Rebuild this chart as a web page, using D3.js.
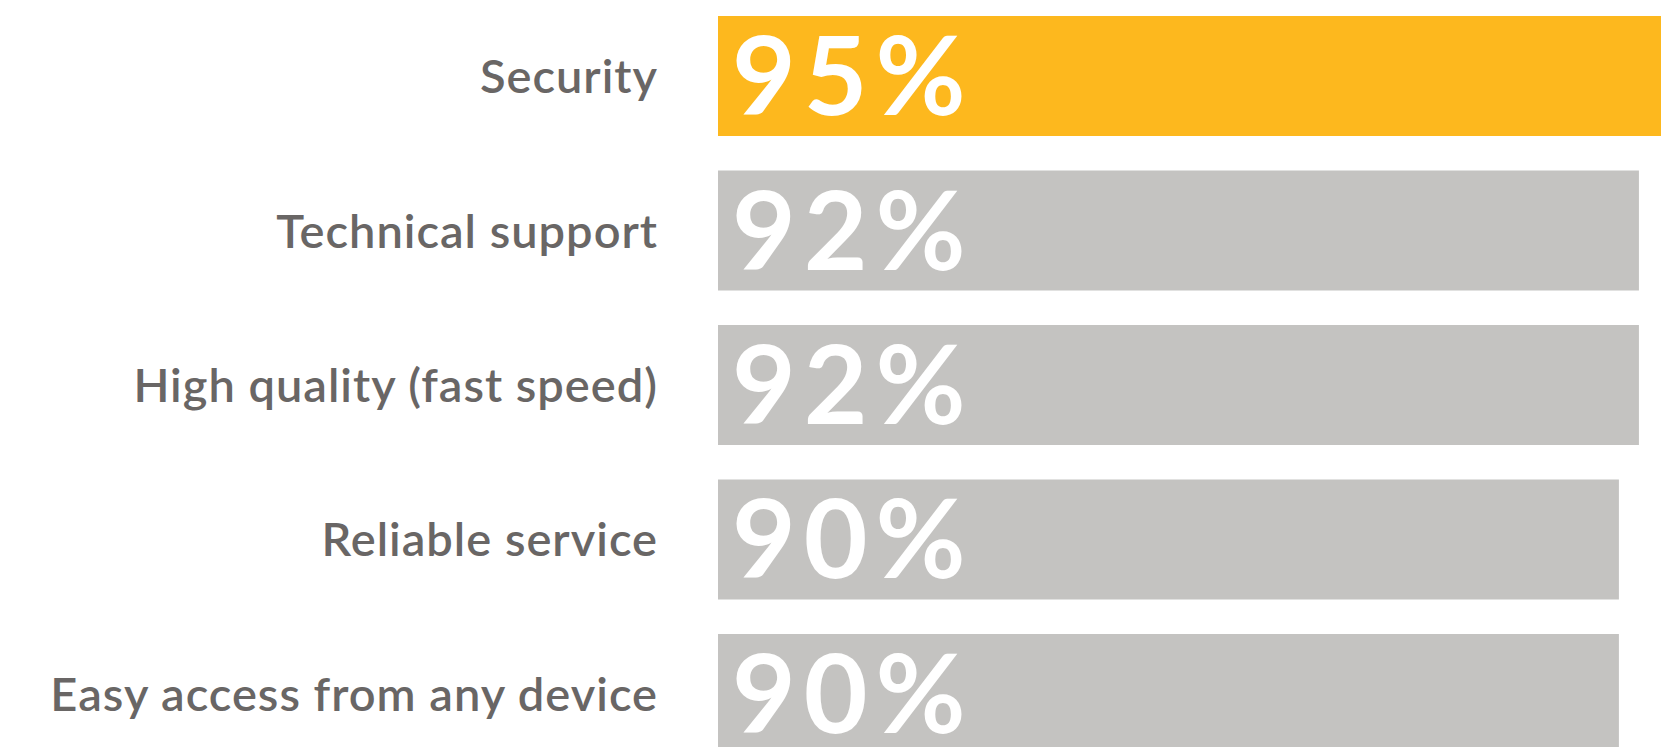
<!DOCTYPE html>
<html>
<head>
<meta charset="utf-8">
<script src="https://cdn.jsdelivr.net/npm/d3@7"></script>
<style>
  html, body { margin: 0; padding: 0; background: #fff; overflow: hidden; }
</style>
</head>
<body>
<div id="chart"></div>
<script>
var categories = ['Security', 'Technical support', 'High quality (fast speed)', 'Reliable service', 'Easy access from any device']
var values = [95, 92, 92, 90, 90]
var highlight = 'Security'

var width = 1661
var height = 747

var svg = d3.select('#chart')
  .append('svg')
  .attr('width', width)
  .attr('height', height)

// scales
var x = d3.scaleLinear()
  .domain([0, 100])
  .range([718, 1719])

var y = d3.scaleBand()
  .domain(categories)
  .range([16, 754])
  .paddingInner(0.2233)
  .paddingOuter(0)

var rows = categories.map((c, i) => ({ name: c, value: values[i] }))

// bars
svg.selectAll('.bar')
  .data(rows)
  .enter()
  .append('rect')
  .attr('class', 'bar')
  .attr('x', x(0))
  .attr('y', d => y(d.name))
  .attr('width', d => x(d.value) - x(0))
  .attr('height', y.bandwidth())
  .attr('fill', d => d.name === highlight ? '#FDB81E' : '#C4C3C1')

// category labels
svg.selectAll('.cat-label')
  .data(rows)
  .enter()
  .append('text')
  .attr('class', 'cat-label')
  .attr('x', 658)
  .attr('y', d => y(d.name) + y.bandwidth() / 2 + 17)
  .attr('text-anchor', 'end')
  .attr('font-family', 'Lato, sans-serif')
  .attr('font-weight', 600)
  .attr('font-size', '47px')
  .attr('letter-spacing', '1px')
  .attr('fill', '#696665')
  .text(d => d.name)

// value labels
svg.selectAll('.val-label')
  .data(rows)
  .enter()
  .append('text')
  .attr('class', 'val-label')
  .attr('x', x(0) + 14)
  .attr('y', d => y(d.name) + y.bandwidth() / 2 + 39)
  .attr('font-family', 'Lato, sans-serif')
  .attr('font-weight', 700)
  .attr('font-size', '110px')
  .attr('letter-spacing', '8px')
  .attr('fill', '#fff')
  .text(d => d.value + '%')
</script>
</body>
</html>
